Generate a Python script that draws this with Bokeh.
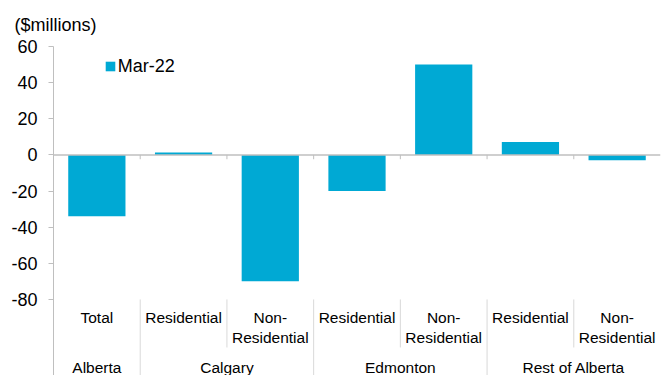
from bokeh.plotting import figure
from bokeh.models import (FactorRange, Range1d, FixedTicker, Span,
                          Legend, LegendItem, ColumnDataSource)
from bokeh.core.properties import value
from bokeh.embed import file_html
from bokeh.resources import INLINE

# ---- data ----
groups = ["Alberta", "Calgary", "Calgary", "Edmonton", "Edmonton",
          "Rest of Alberta", "Rest of Alberta"]
subcats = ["Total", "Residential", "Non-Residential", "Residential",
           "Non-Residential", "Residential", "Non-Residential"]
subcat_labels = ["Total", "Residential", "Non-\nResidential", "Residential",
                 "Non-\nResidential", "Residential", "Non-\nResidential"]
group_names = ["Alberta", "Calgary", "Edmonton", "Rest of Alberta"]
series_name = "Mar-22"
values = [-34, 1.3, -70, -20, 50, 7.2, -3]
y_ticks = [-80, -60, -40, -20, 0, 20, 40, 60]
y_tick_labels = ["-80", "-60", "-40", "-20", "0", "20", "40", "60"]
unit_label = "($millions)"

FONT = "Liberation Sans"
BAR = "#00A9D4"
AXIS = "#BFBFBF"
SEP = "#D9D9D9"

factors = list(zip(groups, subcats))

p = figure(width=664, height=375,
           x_range=FactorRange(*factors, group_padding=0, factor_padding=0,
                               subgroup_padding=0, range_padding=0),
           y_range=Range1d(-122.1, 60),
           x_axis_location=None,
           output_backend="svg", toolbar_location=None,
           min_border_left=53, min_border_right=4,
           min_border_top=46, min_border_bottom=0)
p.outline_line_color = None
p.xgrid.visible = False
p.ygrid.visible = False

# unit label as title above the frame
p.title.text = unit_label
p.title.align = "left"
p.title.offset = -39
p.title.standoff = 24
p.title.text_font = FONT
p.title.text_font_size = "18px"
p.title.text_font_style = "normal"
p.title.text_color = "#000000"

ya = p.yaxis[0]
ya.ticker = FixedTicker(ticks=y_ticks)
ya.major_label_overrides = {t: l for t, l in zip(y_ticks, y_tick_labels)}
ya.major_label_text_font = FONT
ya.major_label_text_font_size = "18px"
ya.major_label_text_color = "#000000"
ya.major_label_standoff = 11
ya.major_tick_out = 5
ya.major_tick_in = 0
ya.minor_tick_line_color = None
ya.axis_line_color = AXIS
ya.major_tick_line_color = AXIS

# bars
src = ColumnDataSource(dict(x=factors, top=values))
r = p.vbar(x="x", top="top", bottom=0, width=0.66, source=src,
           fill_color=BAR, line_color=None)

# zero line
p.add_layout(Span(location=0, dimension="width", line_color=AXIS, line_width=1.5))

# category boundaries
bx, is_group = [], []
for i in range(1, len(factors)):
    bx.append((groups[i], subcats[i], -0.5))
    is_group.append(groups[i] != groups[i - 1])
tick_src = ColumnDataSource(dict(x=bx, y0=[0] * len(bx), y1=[-2.4] * len(bx)))
p.segment(x0="x", y0="y0", x1="x", y1="y1", source=tick_src,
          line_color=AXIS, line_width=1)
sep_src = ColumnDataSource(dict(
    x=bx, y0=[-80] * len(bx),
    y1=[-122.1 if g else -106.6 for g in is_group]))
p.segment(x0="x", y0="y0", x1="x", y1="y1", source=sep_src,
          line_color=SEP, line_width=1)

# sub-category labels
lab_src = ColumnDataSource(dict(x=factors, text=subcat_labels,
                                y=[-85.2] * len(factors)))
p.text(x="x", y="y", text="text", source=lab_src,
       text_font=value(FONT), text_font_size=value("15.5px"),
       text_color="#000000", text_align="center", text_baseline="top",
       text_line_height=1.2)

# group labels
grp_src = ColumnDataSource(dict(x=group_names, y=[-117.6] * len(group_names)))
p.text(x="x", y="y", text="x", source=grp_src,
       text_font=value(FONT), text_font_size=value("15.5px"),
       text_color="#000000", text_align="center", text_baseline="middle")

# legend
legend = Legend(items=[LegendItem(label=series_name, renderers=[r])],
                location=(50.8, 298.5), padding=0, margin=0, spacing=0,
                glyph_width=12, glyph_height=12, label_standoff=2,
                label_text_font=FONT, label_text_font_size="18px",
                label_text_color="#000000", border_line_color=None,
                background_fill_alpha=0)
p.add_layout(legend)

open("out.html", "w").write(file_html(p, INLINE))
